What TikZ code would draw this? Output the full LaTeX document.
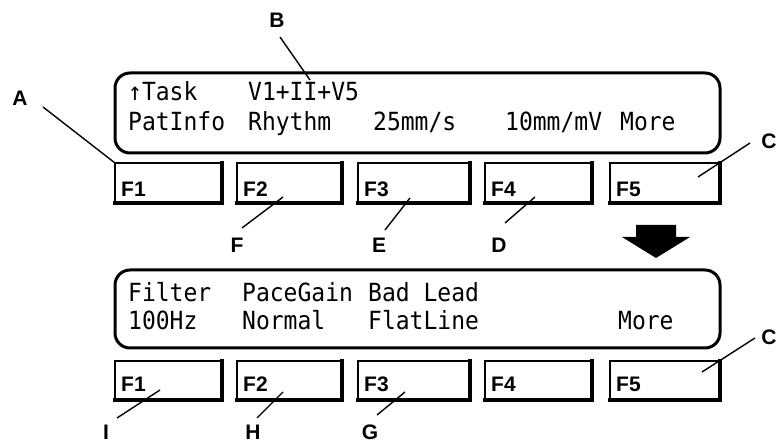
\documentclass[tikz,border=0pt]{standalone}
\usepackage{fontspec}
\setmainfont{Liberation Sans}
\newfontfamily\lcdfont[FakeStretch=0.92]{DejaVu Sans Mono}
\begin{document}
\begin{tikzpicture}[x=1pt,y=-1pt,
  display/.style={draw=black,line width=3pt,rounded corners=15pt},
  fkey/.style={draw=black,line width=1.6pt},
  fshade/.style={line width=4pt,line cap=rect},
  lcd/.style={anchor=base west,inner sep=0pt,font=\lcdfont\fontsize{25}{25}\selectfont},
  flabel/.style={anchor=base west,inner sep=0pt,font=\bfseries\fontsize{21}{21}\selectfont},
  callout/.style={inner sep=0pt,font=\bfseries\fontsize{21}{21}\selectfont},
  leader/.style={line width=1.4pt}]
\useasboundingbox (0,0) rectangle (777,443);
% ---------- top display ----------
\draw[display] (115,73) rectangle (720,153);
\node[lcd] (t1) at (128,101) {\char"2191Task};
\node[lcd] (t2) at (248,101) {V1+II+V5};
\node[lcd] (t3) at (128,131) {PatInfo};
\node[lcd] (t4) at (248,131) {Rhythm};
\node[lcd] (t5) at (373,131) {25mm/s};
\node[lcd] (t6) at (505,131) {10mm/mV};
\node[lcd] (t7) at (620,131) {More};
% top keys
\foreach \i/\xa/\xb in {1/115/222,2/237/342,3/358/470,4/485/592,5/610/720}{
  \draw[fkey] (\xa,163) rectangle (\xb,203);
  \draw[fshade] (\xb,163) -- (\xb,203) -- (\xa,203);
  \node[flabel] (tk\i) at (\xa+6,197) {F\i};
}
% ---------- arrow ----------
\fill[black] (636,225) -- (676,225) -- (676,237) -- (690,237) -- (656,258)
  -- (622,237) -- (636,237) -- cycle;
% ---------- bottom display ----------
\draw[display] (115,270) rectangle (720,348);
\node[lcd] (b1) at (128,302) {Filter};
\node[lcd] (b2) at (242,302) {PaceGain};
\node[lcd] (b3) at (368,302) {Bad Lead};
\node[lcd] (b4) at (128,330) {100Hz};
\node[lcd] (b5) at (242,330) {Normal};
\node[lcd] (b6) at (368,330) {FlatLine};
\node[lcd] (b7) at (618,330) {More};
% bottom keys
\foreach \i/\xa/\xb in {1/115/222,2/237/342,3/358/470,4/485/592,5/610/720}{
  \draw[fkey] (\xa,361) rectangle (\xb,400);
  \draw[fshade] (\xb,361) -- (\xb,400) -- (\xa,400);
  \node[flabel] (bk\i) at (\xa+6,392) {F\i};
}
% ---------- callouts ----------
\node[callout] (A) at (20,98) {A};
\node[callout] (B) at (277,20) {B};
\node[callout] (C1) at (769,141) {C};
\node[callout] (F) at (237,245) {F};
\node[callout] (E) at (379,245) {E};
\node[callout] (D) at (499,245) {D};
\node[callout] (C2) at (769,337) {C};
\node[callout] (I) at (106,432) {I};
\node[callout] (H) at (253,432) {H};
\node[callout] (G) at (370,432) {G};
\coordinate (a0) at (43,107);  \coordinate (a1) at (115,163);
\coordinate (b0) at (280,37);  \coordinate (b1') at (310,80);
\coordinate (c0) at (750,143); \coordinate (c1) at (698,177);
\coordinate (f0) at (242,228); \coordinate (f1) at (283,197);
\coordinate (e0) at (385,230); \coordinate (e1) at (410,198);
\coordinate (d0) at (505,223); \coordinate (d1) at (535,197);
\coordinate (cc0) at (755,338); \coordinate (cc1) at (702,372);
\coordinate (i0) at (117,418); \coordinate (i1) at (160,390);
\coordinate (h0) at (257,418); \coordinate (h1) at (283,392);
\coordinate (g0) at (377,415); \coordinate (g1) at (405,392);
\draw[leader] (a0) -- (a1);
\draw[leader] (b0) -- (b1');
\draw[leader] (c0) -- (c1);
\draw[leader] (f0) -- (f1);
\draw[leader] (e0) -- (e1);
\draw[leader] (d0) -- (d1);
\draw[leader] (cc0) -- (cc1);
\draw[leader] (i0) -- (i1);
\draw[leader] (h0) -- (h1);
\draw[leader] (g0) -- (g1);
\end{tikzpicture}
\end{document}
